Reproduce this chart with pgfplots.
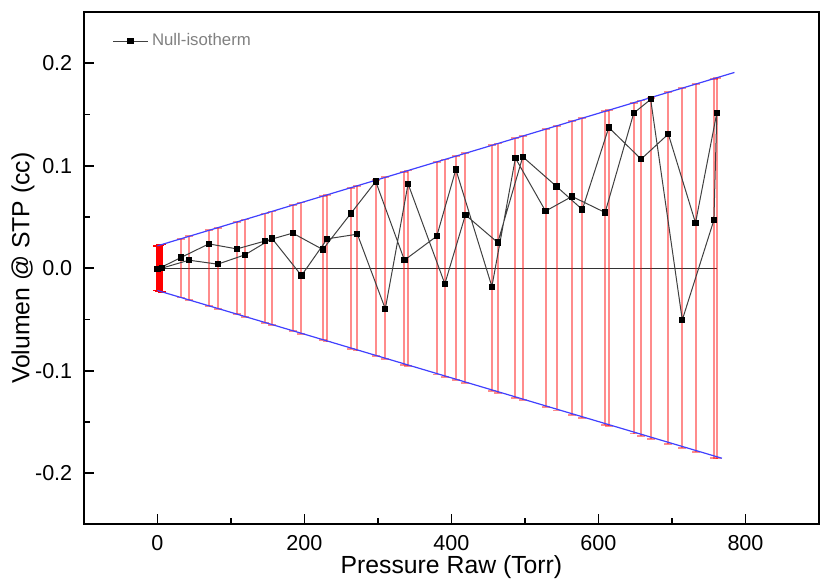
\documentclass[border=0pt]{standalone}
\usepackage{fontspec}
\setmainfont{Liberation Sans}
\usepackage{pgfplots}
\pgfplotsset{compat=1.18}
\definecolor{barred}{rgb}{1,0,0}
\begin{document}
\begin{tikzpicture}
\begin{axis}[
    scale only axis,
    width=368pt, height=256.5pt,
    xmin=-100, xmax=900, ymin=-0.25, ymax=0.25,
    xtick={0,200,400,600,800}, minor x tick num=1,
    ytick={-0.2,-0.1,0,0.1,0.2},
    yticklabels={-0.2,-0.1,0.0,0.1,0.2},
    minor y tick num=1,
    xtick pos=lower, ytick pos=left,
    major tick length=5pt, minor tick length=3pt,
    line width=1pt,
    every tick/.style={black, line width=0.9pt},
    /pgf/number format/assume math mode=true,
    tick label style={font=\fontsize{10.8}{12}\selectfont},
    xticklabel style={yshift=-1.5pt},
    yticklabel style={xshift=-2pt},
    xlabel={Pressure Raw (Torr)},
    ylabel={Volumen @ STP (cc)},
    label style={font=\fontsize{12.4}{14}\selectfont},
    xlabel style={at={(axis description cs:0.5,0)}, anchor=center, yshift=-21.5pt},
    ylabel style={at={(axis description cs:0,0.5)}, anchor=center, yshift=30.5pt},
    legend style={at={(0.03,0.975)}, anchor=north west, draw=none, fill=none,
        font=\fontsize{8.4}{9}\selectfont, text=gray, legend cell align=left},
]
% zero line with the error bars (envelope)
\addplot[black!80, line width=0.5pt, forget plot,
    error bars/.cd, y dir=both, y explicit,
    error bar style={barred, opacity=0.45, line width=1pt},
    error mark options={rotate=90, barred, opacity=0.45, mark size=2pt, line width=0.9pt}]
coordinates {
    (0,0) +- (0,0.0218)
    (32,0) +- (0,0.0287)
    (43,0) +- (0,0.0311)
    (70,0) +- (0,0.0369)
    (82,0) +- (0,0.0395)
    (108,0) +- (0,0.0451)
    (119,0) +- (0,0.0474)
    (146,0) +- (0,0.0533)
    (156,0) +- (0,0.0554)
    (184,0) +- (0,0.0615)
    (196,0) +- (0,0.0640)
    (225,0) +- (0,0.0703)
    (231,0) +- (0,0.0716)
    (263,0) +- (0,0.0785)
    (272,0) +- (0,0.0804)
    (297,0) +- (0,0.0858)
    (310,0) +- (0,0.0886)
    (336,0) +- (0,0.0942)
    (341,0) +- (0,0.0953)
    (380,0) +- (0,0.1037)
    (391,0) +- (0,0.1061)
    (406,0) +- (0,0.1093)
    (419,0) +- (0,0.1121)
    (455,0) +- (0,0.1199)
    (463,0) +- (0,0.1216)
    (487,0) +- (0,0.1268)
    (497,0) +- (0,0.1289)
    (528,0) +- (0,0.1356)
    (543,0) +- (0,0.1388)
    (564,0) +- (0,0.1433)
    (578,0) +- (0,0.1464)
    (609,0) +- (0,0.1530)
    (614,0) +- (0,0.1541)
    (648,0) +- (0,0.1614)
    (658,0) +- (0,0.1636)
    (671,0) +- (0,0.1664)
    (695,0) +- (0,0.1716)
    (714,0) +- (0,0.1757)
    (732,0) +- (0,0.1795)
    (757,0) +- (0,0.1849)
    (761,0) +- (0,0.1858)
};
% repeated points at zero pressure: the solid bar
\addplot[draw=none, forget plot,
    error bars/.cd, y dir=both, y explicit,
    error bar style={barred, line width=1.2pt},
    error mark options={rotate=90, barred, mark size=2pt, line width=0.9pt}]
coordinates {
    (0,0) +- (0,0.0218)
    (2,0) +- (0,0.0222)
    (4,0) +- (0,0.0227)
    (6,0) +- (0,0.0231)
};
% envelope lines
\addplot[blue!75, line width=0.6pt, forget plot] coordinates {(0,0.0218) (785,0.191)};
\addplot[blue!75, line width=0.6pt, forget plot] coordinates {(0,-0.0218) (768,-0.1855)};
% measured isotherm (adsorption then desorption)
\addplot[black!75, line width=0.5pt, mark=square*, mark size=1.3pt,
    mark options={black, fill=black, solid}]
coordinates {
    (0,-0.001) (32,0.0104) (70,0.0237) (108,0.0188) (146,0.0264)
    (184,0.0342) (225,0.0182) (263,0.0533) (297,0.0846) (336,0.0078)
    (380,0.0312) (406,0.0963) (455,-0.018) (487,0.1074) (528,0.0557)
    (564,0.070) (609,0.0543) (648,0.1514) (671,0.1647) (714,-0.0505)
    (757,0.0469)
    (761,0.1516) (732,0.0442) (695,0.1309) (658,0.1064) (614,0.1373)
    (578,0.0572) (543,0.0797) (497,0.1087) (463,0.025) (419,0.052)
    (391,-0.0153) (341,0.0823) (310,-0.0397) (272,0.0332) (231,0.0286)
    (196,-0.0072) (156,0.0289) (119,0.013) (82,0.0039) (43,0.0078)
    (6,0.0)
};
\addlegendentry{Null-isotherm}
\end{axis}
\pgfresetboundingbox
\path ([shift={(-42pt,-28pt)}]current axis.south west) rectangle ([shift={(0.5pt,6pt)}]current axis.north east);
\end{tikzpicture}
\end{document}
